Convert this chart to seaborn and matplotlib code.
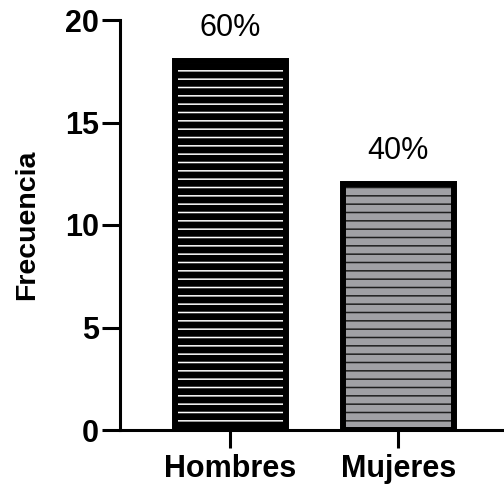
import pandas as pd
import matplotlib
matplotlib.use("Agg")
import matplotlib.pyplot as plt
import seaborn as sns
from matplotlib.patches import Rectangle

# Data
categorias = ["Hombres", "Mujeres"]
frecuencia = [18, 12]
colores_relleno = ["#000000", "#a0a0a4"]
colores_rayas = ["#ffffff", "#1e1e1e"]

df = pd.DataFrame({"Sexo": categorias, "Frecuencia": frecuencia})
total = sum(frecuencia)

sns.set_style("ticks")
plt.rcParams["font.family"] = ["Liberation Sans", "DejaVu Sans"]
plt.rcParams["hatch.linewidth"] = 1.1
for k in ["text.color", "axes.labelcolor", "axes.edgecolor", "xtick.color", "ytick.color"]:
    plt.rcParams[k] = "black"

fig = plt.figure(figsize=(5.04, 4.88), dpi=100)
ax = fig.add_axes([120 / 504, 58 / 488, 384 / 504, 410 / 488])

sns.barplot(data=df, x="Sexo", y="Frecuencia", hue="Sexo",
            palette=colores_relleno, width=0.66, legend=False, ax=ax)

# horizontal stripes + thick black outline
for patch, raya in zip(ax.patches, colores_rayas):
    patch.set_edgecolor(raya)
    patch.set_linewidth(0)
    patch.set_hatch("--")
    ax.add_patch(Rectangle(patch.get_xy(), patch.get_width(), patch.get_height(),
                           fill=False, edgecolor="black", linewidth=4.3, zorder=3))

# percentage labels
for i, v in enumerate(frecuencia):
    ax.text(i, v + 1.6, f"{round(v / total * 100)}%", ha="center", va="center",
            fontsize=22)

ax.set_xlim(-0.655, 1.63)
ax.set_ylim(0, 20)
ax.set_yticks([0, 5, 10, 15, 20])
ax.set_xlabel("")
ax.set_ylabel("Frecuencia", fontsize=20.5, fontweight="bold", labelpad=18)

sns.despine(ax=ax)
for s in ["left", "bottom"]:
    ax.spines[s].set_linewidth(2.2)
ax.tick_params(axis="both", length=13, width=2.2, pad=2)
ax.tick_params(axis="y", labelsize=22)
ax.tick_params(axis="x", labelsize=22, pad=4)
for lab in ax.get_xticklabels() + ax.get_yticklabels():
    lab.set_fontweight("bold")

fig.savefig("out.png", dpi=100)
